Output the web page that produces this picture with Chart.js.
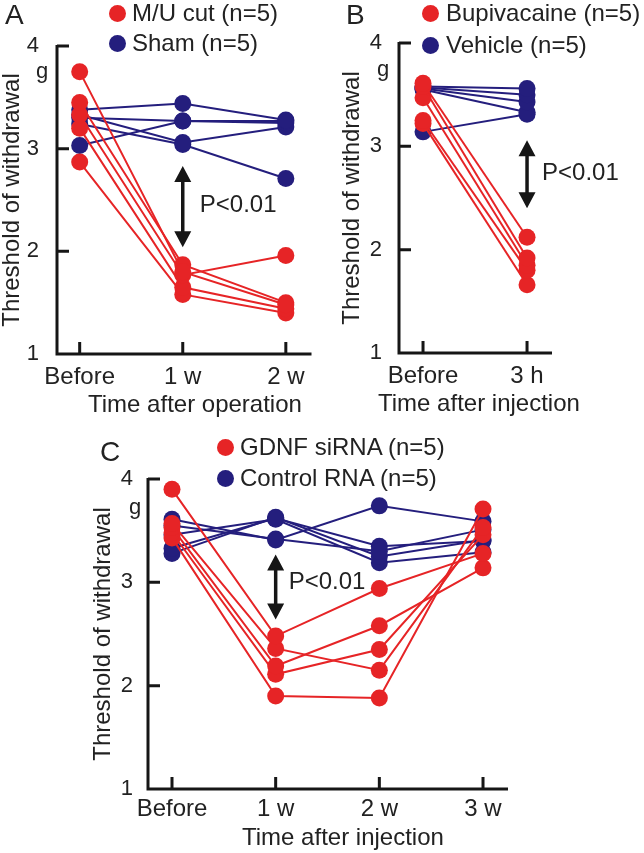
<!DOCTYPE html>
<html>
<head>
<meta charset="utf-8">
<script src="https://cdn.jsdelivr.net/npm/chart.js@4.4.1/dist/chart.umd.min.js"></script>
<style>
	body { margin: 0; background: #fff; }
	#page { position: relative; width: 644px; height: 853px; overflow: hidden; font-family: "Liberation Sans", Arial, sans-serif; color: #222; }
	canvas { position: absolute; }
	.txt { position: absolute; line-height: 1; white-space: nowrap; font-size: 24px; }
	.letter { font-size: 28px; }
	.unit { font-size: 22px; }
	.dot { position: absolute; width: 17px; height: 17px; border-radius: 50%; margin: -8.5px 0 0 -8.5px; }
</style>
</head>
<body>
<div id="page">
	<canvas id="Chart_A" width="320" height="420" style="left:0;top:0"></canvas>
	<canvas id="Chart_B" width="324" height="420" style="left:320px;top:0"></canvas>
	<canvas id="Chart_C" width="644" height="433" style="left:0;top:420px"></canvas>

	<div class="txt letter" style="left:5px;top:1px">A</div>
	<div class="txt letter" style="left:346px;top:1px">B</div>
	<div class="txt letter" style="left:100px;top:438px">C</div>

	<div class="dot" style="left:117px;top:13px;background:rgb(230,36,38)"></div>
	<div class="txt" style="left:132px;top:1px">M/U cut (n=5)</div>
	<div class="dot" style="left:117px;top:43px;background:rgb(36,30,125)"></div>
	<div class="txt" style="left:132px;top:31px">Sham (n=5)</div>

	<div class="dot" style="left:430px;top:13px;background:rgb(230,36,38)"></div>
	<div class="txt" style="left:446px;top:1px">Bupivacaine (n=5)</div>
	<div class="dot" style="left:430px;top:45px;background:rgb(36,30,125)"></div>
	<div class="txt" style="left:446px;top:33px">Vehicle (n=5)</div>

	<div class="dot" style="left:225px;top:447px;background:rgb(230,36,38)"></div>
	<div class="txt" style="left:240px;top:435px">GDNF siRNA (n=5)</div>
	<div class="dot" style="left:225px;top:478px;background:rgb(36,30,125)"></div>
	<div class="txt" style="left:240px;top:466px">Control RNA (n=5)</div>

	<div class="txt unit" style="left:36px;top:60px">g</div>
	<div class="txt unit" style="left:377px;top:58px">g</div>
	<div class="txt unit" style="left:129px;top:496px">g</div>

	<div class="txt" style="left:88px;top:392px">Time after operation</div>
	<div class="txt" style="left:378px;top:391px">Time after injection</div>
	<div class="txt" style="left:242px;top:825px">Time after injection</div>
</div>

<script>
window.onload = init;

const RED = 'rgb(230, 36, 38)';
const BLUE = 'rgb(36, 30, 125)';
const INK = '#161616';
const FONT = '"Liberation Sans", Arial, sans-serif';

// panel A : M/U cut vs sham
const a_times = ['Before', '1 w', '2 w'];
const a_cut = [
	[3.75, 1.80, 1.48],
	[3.45, 1.87, 1.50],
	[3.33, 1.77, 1.96],
	[3.20, 1.65, 1.44],
	[2.87, 1.58, 1.40]
];
const a_sham = [
	[3.38, 3.44, 3.28],
	[3.30, 3.27, 3.27],
	[3.03, 3.27, 3.25],
	[3.33, 3.06, 3.21],
	[3.24, 3.04, 2.71]
];

// panel B : bupivacaine vs vehicle
const b_times = ['Before', '3 h'];
const b_bupi = [
	[3.61, 2.12],
	[3.58, 1.92],
	[3.47, 1.85],
	[3.25, 1.80],
	[3.22, 1.66]
];
const b_vehicle = [
	[3.58, 3.56],
	[3.57, 3.50],
	[3.56, 3.43],
	[3.55, 3.33],
	[3.14, 3.31]
];

// panel C : GDNF siRNA vs control RNA
const c_times = ['Before', '1 w', '2 w', '3 w'];
const c_sirna = [
	[3.90, 2.48, 2.94, 3.28],
	[3.57, 2.36, 2.15, 3.53],
	[3.53, 2.19, 2.58, 3.14],
	[3.48, 2.11, 2.35, 3.46],
	[3.43, 1.90, 1.88, 3.71]
];
const c_control = [
	[3.61, 3.41, 3.74, 3.59],
	[3.55, 3.42, 3.30, 3.51],
	[3.33, 3.62, 3.35, 3.40],
	[3.28, 3.63, 3.25, 3.41],
	[3.46, 3.61, 3.19, 3.29]
];

const y_ticks = [1, 2, 3, 4];

//=============================================================================================================================

const axes_plugin = {
	id: 'axes_marks',
	beforeDatasetsDraw(chart) {
		const ctx = chart.ctx;
		const area = chart.chartArea;
		const x_scale = chart.scales.x;
		const y_scale = chart.scales.y;

		ctx.save();
		ctx.strokeStyle = INK;
		ctx.lineWidth = 3;
		ctx.lineJoin = 'miter';
		ctx.beginPath();
		ctx.moveTo(area.left, area.top - 1);
		ctx.lineTo(area.left, area.bottom);
		ctx.lineTo(area.right, area.bottom);
		y_scale.ticks.forEach(t => {
			const y = y_scale.getPixelForValue(t.value);
			ctx.moveTo(area.left, y);
			ctx.lineTo(area.left + 12, y);
		});
		x_scale.ticks.forEach(t => {
			const x = x_scale.getPixelForValue(t.value);
			ctx.moveTo(x, area.bottom);
			ctx.lineTo(x, area.bottom - 12);
		});
		ctx.stroke();
		ctx.restore();
	}
};

const arrow_plugin = {
	id: 'p_note',
	afterDatasetsDraw(chart, args, opts) {
		const ctx = chart.ctx;
		const x = chart.scales.x.getPixelForValue(opts.at);
		const y1 = chart.scales.y.getPixelForValue(opts.from);
		const y2 = chart.scales.y.getPixelForValue(opts.to);
		const head_w = 8.5;
		const head_h = 16;

		ctx.save();
		ctx.fillStyle = INK;
		ctx.strokeStyle = INK;
		ctx.lineWidth = 3.5;
		ctx.beginPath();
		ctx.moveTo(x, y1 + head_h - 2);
		ctx.lineTo(x, y2 - head_h + 2);
		ctx.stroke();

		ctx.beginPath();
		ctx.moveTo(x, y1);
		ctx.lineTo(x - head_w, y1 + head_h);
		ctx.lineTo(x + head_w, y1 + head_h);
		ctx.closePath();
		ctx.moveTo(x, y2);
		ctx.lineTo(x - head_w, y2 - head_h);
		ctx.lineTo(x + head_w, y2 - head_h);
		ctx.closePath();
		ctx.fill();

		ctx.fillStyle = '#222';
		ctx.font = `24px ${FONT}`;
		ctx.textBaseline = 'middle';
		ctx.textAlign = 'left';
		ctx.fillText(opts.text, x + opts.dx, chart.scales.y.getPixelForValue(opts.text_at));
		ctx.restore();
	}
};

function Make_Datasets(red_rows, blue_rows) {
	const sets = [];
	const add = function(rows, colour) {
		rows.forEach(row => {
			sets.push({
				data: row.map((v, i) => ({ x: i, y: v })),
				borderColor: colour,
				backgroundColor: colour,
				pointBackgroundColor: colour,
				pointBorderWidth: 0,
				pointRadius: 8.5,
				borderWidth: 2,
				tension: 0,
				clip: false
			});
		});
	};
	// first datasets end on top
	add(red_rows, RED);
	add(blue_rows, BLUE);
	return sets;
}

function Make_Chart(canvas_id, p) {

	const options = {
		responsive: false,
		animation: false,
		events: [],
		layout: { padding: p.padding },
		plugins: {
			legend: { display: false },
			tooltip: { enabled: false },
			p_note: p.note
		},
		scales: {
			x: {
				type: 'linear',
				min: p.x_min,
				max: p.x_max,
				grid: { display: false },
				border: { display: false },
				afterBuildTicks: s => { s.ticks = p.times.map((l, i) => ({ value: i })); },
				afterFit: s => { s.height = p.x_height; },
				ticks: {
					callback: v => p.times[v],
					color: '#222',
					font: { family: FONT, size: 24, lineHeight: 1 },
					padding: p.x_pad,
					maxRotation: 0,
					autoSkip: false
				}
			},
			y: {
				type: 'linear',
				min: 1,
				max: 4,
				grid: { display: false },
				border: { display: false },
				afterBuildTicks: s => { s.ticks = y_ticks.map(v => ({ value: v })); },
				afterFit: s => { s.width = p.y_width; },
				ticks: {
					color: '#222',
					font: { family: FONT, size: 22 },
					padding: p.y_pad
				},
				title: {
					display: true,
					text: 'Threshold of withdrawal',
					color: '#222',
					font: { family: FONT, size: 24, lineHeight: 1 },
					padding: 0
				}
			}
		}
	};

	return new Chart(document.getElementById(canvas_id).getContext('2d'), {
		type: 'line',
		data: { datasets: Make_Datasets(p.red, p.blue) },
		options: options,
		plugins: [axes_plugin, arrow_plugin]
	});
}

function init() {

	Make_Chart('Chart_A', {
		times: a_times, red: a_cut, blue: a_sham,
		x_min: -0.22, x_max: 2.249,
		padding: { left: 0, right: 5, top: 46, bottom: 0 },
		y_width: 57, x_height: 66, y_pad: 10, x_pad: 3,
		note: { at: 1, from: 2.83, to: 2.04, text: 'P<0.01', text_at: 2.45, dx: 17 }
	});

	Make_Chart('Chart_B', {
		times: b_times, red: b_bupi, blue: b_vehicle,
		x_min: -0.231, x_max: 1.24,
		padding: { left: 20, right: 92, top: 43, bottom: 0 },
		y_width: 59, x_height: 67, y_pad: 9, x_pad: 3,
		note: { at: 1, from: 3.06, to: 2.40, text: 'P<0.01', text_at: 2.74, dx: 15 }
	});

	Make_Chart('Chart_C', {
		times: c_times, red: c_sirna, blue: c_control,
		x_min: -0.2315, x_max: 3.241,
		padding: { left: 91, right: 136, top: 59, bottom: 0 },
		y_width: 57, x_height: 64, y_pad: 7, x_pad: 0,
		note: { at: 1, from: 3.27, to: 2.64, text: 'P<0.01', text_at: 3.0, dx: 13 }
	});
}
</script>
</body>
</html>
